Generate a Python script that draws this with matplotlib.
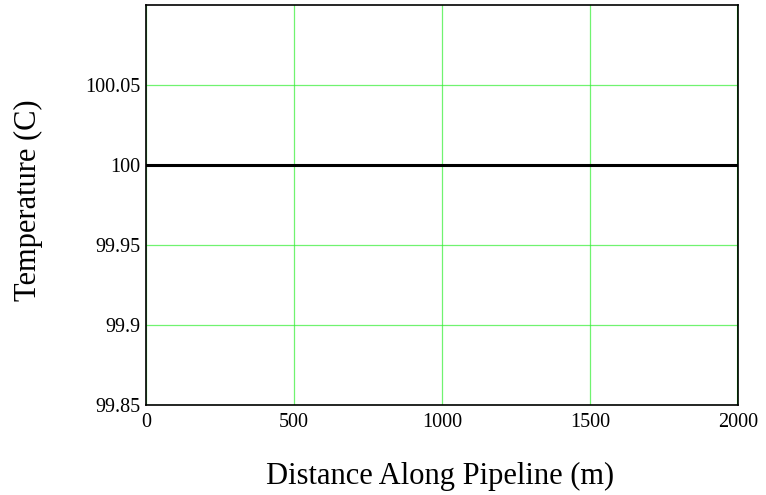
import matplotlib
matplotlib.use("Agg")
import matplotlib.pyplot as plt

# Temperature profile along the pipeline
distance_m = [0, 500, 1000, 1500, 2000]
temperature_c = [100, 100, 100, 100, 100]

x_ticks = [0, 500, 1000, 1500, 2000]
y_ticks = [99.85, 99.9, 99.95, 100.0, 100.05]
y_tick_labels = ["99.85", "99.9", "99.95", "100", "100.05"]

plt.rcParams['font.family'] = ['Liberation Serif', 'DejaVu Serif']

W, H = 766, 495
fig = plt.figure(figsize=(W / 100, H / 100), dpi=100)
ax = fig.add_axes([146 / W, 1 - 405 / H, (738 - 146) / W, (405 - 5) / H])

ax.set_xlim(0, 2000)
ax.set_ylim(99.85, 100.10)

ax.set_xticks(x_ticks)
ax.set_xticklabels([str(v) for v in x_ticks])
ax.set_yticks(y_ticks)
ax.set_yticklabels(y_tick_labels)
ax.tick_params(length=0, labelsize=14.5)
ax.tick_params(axis='y', pad=4)
ax.tick_params(axis='x', pad=6)

ax.grid(True, color='#33ee33', linewidth=0.9, alpha=0.7)
ax.set_axisbelow(True)
ax.axvline(2000, color='#00ee00', linewidth=1.5, zorder=2)

ax.plot(distance_m, temperature_c, color='black', linewidth=2.2, zorder=3)

for s in ax.spines.values():
    s.set_linewidth(1.2)
    s.set_color('black')

fig.text(440 / W, 1 - 484 / H, "Distance Along Pipeline (m)", fontsize=22,
         ha='center', va='baseline')
fig.text(28 / W, 1 - 200 / H, "Temperature (C)", fontsize=22,
         rotation=90, ha='center', va='center')

fig.savefig("out.png", dpi=100)
